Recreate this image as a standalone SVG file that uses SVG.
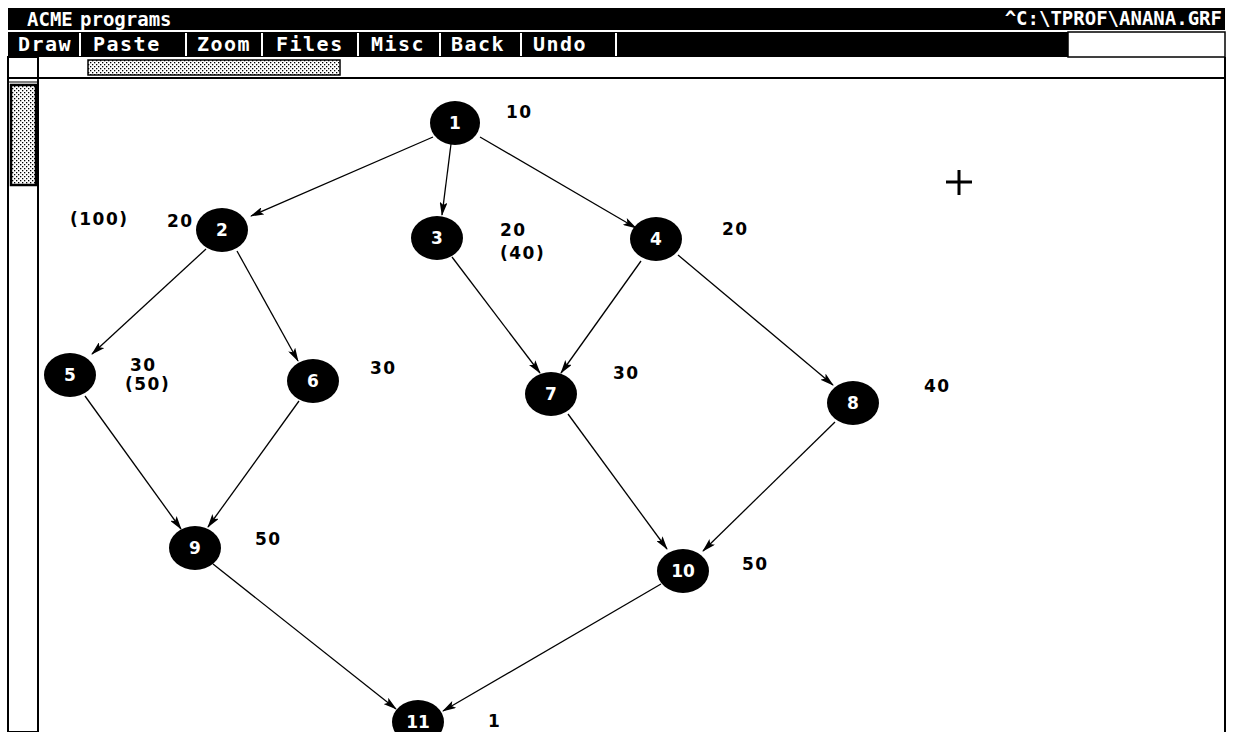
<svg xmlns="http://www.w3.org/2000/svg" width="1233" height="732" viewBox="0 0 1233 732">
<defs>
<pattern id="dots" width="4" height="4" patternUnits="userSpaceOnUse">
<rect width="4" height="4" fill="#fff"/>
<rect x="0" y="0" width="1.3" height="1.3" fill="#000"/>
<rect x="2" y="2" width="1.3" height="1.3" fill="#000"/>
</pattern>
<marker id="arr" viewBox="0 0 14 8" refX="13" refY="4" markerWidth="14" markerHeight="8" markerUnits="userSpaceOnUse" orient="auto">
<path d="M0,0 L14,4 L0,8 L3,4 z" fill="#000"/>
</marker>
<style>
.bar{fill:#000}
.mt{font-family:"DejaVu Sans Mono","Liberation Mono",monospace;font-weight:bold;font-size:19px;fill:#fff}
.mn{font-family:"DejaVu Sans Mono","Liberation Mono",monospace;font-weight:bold;font-size:20px;fill:#fff;letter-spacing:1.5px}
.lbl{font-family:"DejaVu Sans",Verdana,sans-serif;font-weight:bold;font-size:17px;fill:#000;letter-spacing:1.5px}
.node{fill:#000}
.nt{font-family:"DejaVu Sans",Verdana,sans-serif;font-weight:bold;font-size:17px;fill:#fff;text-anchor:middle}
.edge{stroke:#000;stroke-width:1.3;fill:none;marker-end:url(#arr)}
.sep{stroke:#fff;stroke-width:2}
</style>
</defs>
<rect width="1233" height="732" fill="#fff"/>
<g id="chrome">
<rect class="bar" x="8" y="8" width="1217" height="22"/>
<text class="mt" x="27" y="26">ACME</text>
<text class="mt" x="80" y="26">programs</text>
<text class="mt" x="1222" y="25" text-anchor="end">^C:\TPROF\ANANA.GRF</text>
<rect class="bar" x="8" y="32" width="1060" height="25"/>
<rect x="1068" y="32" width="157" height="25" fill="#fff" stroke="#000" stroke-width="1.5"/>
<text class="mn" x="18" y="51">Draw</text>
<line class="sep" x1="80" y1="33" x2="80" y2="56"/>
<text class="mn" x="93" y="51">Paste</text>
<line class="sep" x1="186" y1="33" x2="186" y2="56"/>
<text class="mn" x="197" y="51">Zoom</text>
<line class="sep" x1="262" y1="33" x2="262" y2="56"/>
<text class="mn" x="276" y="51">Files</text>
<line class="sep" x1="358" y1="33" x2="358" y2="56"/>
<text class="mn" x="371" y="51">Misc</text>
<line class="sep" x1="440" y1="33" x2="440" y2="56"/>
<text class="mn" x="451" y="51">Back</text>
<line class="sep" x1="521" y1="33" x2="521" y2="56"/>
<text class="mn" x="533" y="51">Undo</text>
<line class="sep" x1="616" y1="33" x2="616" y2="56"/>
<rect x="8" y="57" width="30" height="675" fill="#fff" stroke="#000" stroke-width="2"/>
<line x1="8" y1="78" x2="1225" y2="78" stroke="#000" stroke-width="2"/>
<line x1="1225" y1="57" x2="1225" y2="732" stroke="#000" stroke-width="2"/>
<rect x="88" y="60" width="252" height="15" fill="url(#dots)" stroke="#000" stroke-width="1.5"/>
<line x1="8" y1="82" x2="38" y2="82" stroke="#000" stroke-width="1"/>
<rect x="11" y="85" width="25" height="100" fill="url(#dots)" stroke="#000" stroke-width="2.5"/>
<path d="M946,182 H972 M959,170 V195" stroke="#000" stroke-width="3"/>
</g>
<g id="connectors">
<line class="edge" x1="433" y1="137" x2="251" y2="216"/>
<line class="edge" x1="451" y1="144" x2="442" y2="215"/>
<line class="edge" x1="480" y1="137" x2="636" y2="228"/>
<line class="edge" x1="206" y1="249" x2="92" y2="354"/>
<line class="edge" x1="237" y1="251" x2="298" y2="361"/>
<line class="edge" x1="452" y1="257" x2="540" y2="373"/>
<line class="edge" x1="641" y1="261" x2="561" y2="373"/>
<line class="edge" x1="678" y1="255" x2="833" y2="385"/>
<line class="edge" x1="85" y1="396" x2="181" y2="529"/>
<line class="edge" x1="299" y1="401" x2="208" y2="527"/>
<line class="edge" x1="568" y1="414" x2="667" y2="549"/>
<line class="edge" x1="835" y1="422" x2="703" y2="551"/>
<line class="edge" x1="213" y1="564" x2="396" y2="709"/>
<line class="edge" x1="661" y1="584" x2="443" y2="711"/>
</g>
<g id="n1"><ellipse class="node" cx="455" cy="123" rx="25" ry="22"/><text class="nt" x="455" y="129">1</text></g>
<g id="n2"><ellipse class="node" cx="222" cy="230" rx="26" ry="22"/><text class="nt" x="222" y="236">2</text></g>
<g id="n3"><ellipse class="node" cx="437" cy="238" rx="26" ry="22"/><text class="nt" x="437" y="244">3</text></g>
<g id="n4"><ellipse class="node" cx="656" cy="239" rx="26" ry="22"/><text class="nt" x="656" y="245">4</text></g>
<g id="n5"><ellipse class="node" cx="70" cy="375" rx="26" ry="22"/><text class="nt" x="70" y="381">5</text></g>
<g id="n6"><ellipse class="node" cx="313" cy="381" rx="26" ry="22"/><text class="nt" x="313" y="387">6</text></g>
<g id="n7"><ellipse class="node" cx="551" cy="394" rx="26" ry="22"/><text class="nt" x="551" y="400">7</text></g>
<g id="n8"><ellipse class="node" cx="853" cy="403" rx="26" ry="22"/><text class="nt" x="853" y="409">8</text></g>
<g id="n9"><ellipse class="node" cx="195" cy="548" rx="26" ry="22"/><text class="nt" x="195" y="554">9</text></g>
<g id="n10"><ellipse class="node" cx="683" cy="571" rx="26" ry="22"/><text class="nt" x="683" y="577">10</text></g>
<g id="n11"><ellipse class="node" cx="418" cy="722" rx="26" ry="22"/><text class="nt" x="418" y="728">11</text></g>
<g id="labels">
<text class="lbl" x="506" y="118">10</text>
<text class="lbl" x="70" y="225">(100)</text>
<text class="lbl" x="167" y="227">20</text>
<text class="lbl" x="500" y="236">20</text>
<text class="lbl" x="500" y="259">(40)</text>
<text class="lbl" x="722" y="235">20</text>
<text class="lbl" x="130" y="371">30</text>
<text class="lbl" x="125" y="390">(50)</text>
<text class="lbl" x="370" y="374">30</text>
<text class="lbl" x="613" y="379">30</text>
<text class="lbl" x="924" y="392">40</text>
<text class="lbl" x="255" y="545">50</text>
<text class="lbl" x="742" y="570">50</text>
<text class="lbl" x="488" y="727">1</text>
</g>
</svg>
